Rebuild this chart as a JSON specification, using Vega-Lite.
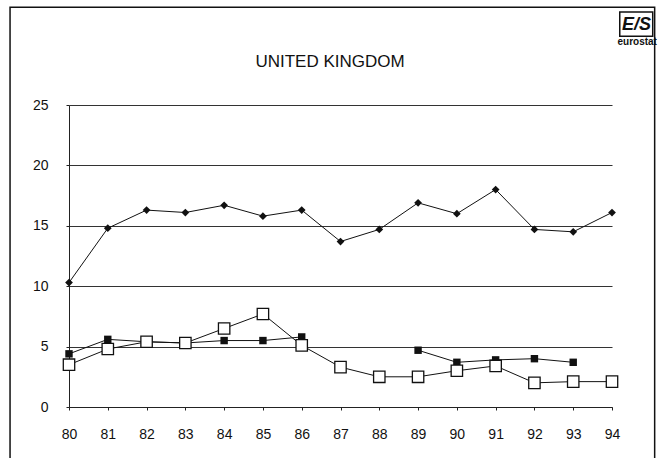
{
  "$schema": "https://vega.github.io/schema/vega-lite/v6.json",
  "width": 543,
  "height": 302,
  "autosize": {"type": "none"},
  "padding": {"left": 69, "top": 105, "right": 50, "bottom": 51},
  "background": "white",
  "config": {
    "view": {"stroke": null},
    "axis": {"labelFont": "Liberation Sans", "labelFontSize": 14, "labelColor": "#111", "title": null}
  },
  "data": {"values": [
    {"series": "A", "year": 80, "value": 10.3, "seg": 1},
    {"series": "A", "year": 81, "value": 14.8, "seg": 1},
    {"series": "A", "year": 82, "value": 16.3, "seg": 1},
    {"series": "A", "year": 83, "value": 16.1, "seg": 1},
    {"series": "A", "year": 84, "value": 16.7, "seg": 1},
    {"series": "A", "year": 85, "value": 15.8, "seg": 1},
    {"series": "A", "year": 86, "value": 16.3, "seg": 1},
    {"series": "A", "year": 87, "value": 13.7, "seg": 1},
    {"series": "A", "year": 88, "value": 14.7, "seg": 1},
    {"series": "A", "year": 89, "value": 16.9, "seg": 1},
    {"series": "A", "year": 90, "value": 16.0, "seg": 1},
    {"series": "A", "year": 91, "value": 18.0, "seg": 1},
    {"series": "A", "year": 92, "value": 14.7, "seg": 1},
    {"series": "A", "year": 93, "value": 14.5, "seg": 1},
    {"series": "A", "year": 94, "value": 16.1, "seg": 1},
    {"series": "B", "year": 80, "value": 4.4, "seg": 1},
    {"series": "B", "year": 81, "value": 5.6, "seg": 1},
    {"series": "B", "year": 82, "value": 5.4, "seg": 1},
    {"series": "B", "year": 83, "value": 5.3, "seg": 1},
    {"series": "B", "year": 84, "value": 5.5, "seg": 1},
    {"series": "B", "year": 85, "value": 5.5, "seg": 1},
    {"series": "B", "year": 86, "value": 5.8, "seg": 1},
    {"series": "B", "year": 89, "value": 4.7, "seg": 2},
    {"series": "B", "year": 90, "value": 3.7, "seg": 2},
    {"series": "B", "year": 91, "value": 3.9, "seg": 2},
    {"series": "B", "year": 92, "value": 4.0, "seg": 2},
    {"series": "B", "year": 93, "value": 3.7, "seg": 2},
    {"series": "C", "year": 80, "value": 3.5, "seg": 1},
    {"series": "C", "year": 81, "value": 4.8, "seg": 1},
    {"series": "C", "year": 82, "value": 5.4, "seg": 1},
    {"series": "C", "year": 83, "value": 5.3, "seg": 1},
    {"series": "C", "year": 84, "value": 6.5, "seg": 1},
    {"series": "C", "year": 85, "value": 7.7, "seg": 1},
    {"series": "C", "year": 86, "value": 5.1, "seg": 1},
    {"series": "C", "year": 87, "value": 3.3, "seg": 1},
    {"series": "C", "year": 88, "value": 2.5, "seg": 1},
    {"series": "C", "year": 89, "value": 2.5, "seg": 1},
    {"series": "C", "year": 90, "value": 3.0, "seg": 1},
    {"series": "C", "year": 91, "value": 3.4, "seg": 1},
    {"series": "C", "year": 92, "value": 2.0, "seg": 1},
    {"series": "C", "year": 93, "value": 2.1, "seg": 1},
    {"series": "C", "year": 94, "value": 2.1, "seg": 1}
  ]},
  "encoding": {
    "x": {"field": "year", "type": "quantitative", "scale": {"domain": [80, 94], "nice": false, "zero": false},
      "axis": {"values": [80,81,82,83,84,85,86,87,88,89,90,91,92,93,94], "format": "d", "grid": false, "labelOverlap": "parity", "labelSeparation": -30, "labelFlush": false, "domainColor": "#222", "tickColor": "#222", "tickSize": 3, "labelPadding": 17}},
    "y": {"field": "value", "type": "quantitative", "scale": {"domain": [0, 25], "nice": false},
      "axis": {"values": [0,5,10,15,20,25], "grid": true, "gridColor": "#333", "gridWidth": 1, "gridOpacity": 1, "domainColor": "#222", "tickColor": "#222", "tickSize": 3, "labelPadding": 18}}
  },
  "layer": [
    {
      "transform": [{"filter": "datum.series == 'A'"}],
      "mark": {"type": "line", "color": "#111", "strokeWidth": 1}
    },
    {
      "transform": [{"filter": "datum.series == 'A'"}],
      "mark": {"type": "point", "shape": "diamond", "filled": true, "color": "#111", "size": 60, "opacity": 1}
    },
    {
      "transform": [{"filter": "datum.series == 'B'"}],
      "mark": {"type": "line", "color": "#111", "strokeWidth": 1},
      "encoding": {"detail": {"field": "seg"}}
    },
    {
      "transform": [{"filter": "datum.series == 'B'"}],
      "mark": {"type": "point", "shape": "square", "filled": true, "color": "#111", "size": 55, "opacity": 1}
    },
    {
      "transform": [{"filter": "datum.series == 'C'"}],
      "mark": {"type": "line", "color": "#111", "strokeWidth": 1}
    },
    {
      "transform": [{"filter": "datum.series == 'C'"}],
      "mark": {"type": "point", "shape": "square", "filled": true, "fill": "white", "stroke": "#111", "strokeWidth": 1.3, "size": 130, "opacity": 1}
    },
    {
      "data": {"values": [{"label": "UNITED KINGDOM", "lx": 86.73, "ly": 28.56}]},
      "mark": {"type": "text", "font": "Liberation Sans", "fontSize": 17, "color": "#111", "baseline": "middle", "align": "center", "clip": false},
      "encoding": {"x": {"field": "lx", "type": "quantitative"}, "y": {"field": "ly", "type": "quantitative"}, "text": {"field": "label"}}
    },
    {
      "data": {"values": [{"x1": 78.48, "x2": 95.1, "y1": 33.1, "y2": -4.5}, {"x1": 94.2, "x2": 95.05, "y1": 32.7, "y2": 30.7}]},
      "mark": {"type": "rect", "fill": null, "stroke": "#111", "strokeWidth": 1.5, "clip": false},
      "encoding": {
        "x": {"field": "x1", "type": "quantitative"},
        "x2": {"field": "x2"},
        "y": {"field": "y1", "type": "quantitative"},
        "y2": {"field": "y2"}
      }
    },
    {
      "data": {"values": [{"label": "E/S", "lx": 94.63, "ly": 31.65}]},
      "mark": {"type": "text", "font": "Liberation Sans", "fontSize": 18, "fontWeight": "bold", "fontStyle": "italic", "color": "#111", "clip": false},
      "encoding": {"x": {"field": "lx", "type": "quantitative"}, "y": {"field": "ly", "type": "quantitative"}, "text": {"field": "label"}}
    },
    {
      "data": {"values": [{"label": "eurostat", "lx": 94.65, "ly": 30.2}]},
      "mark": {"type": "text", "font": "Liberation Sans", "fontSize": 10, "fontWeight": "bold", "color": "#111", "clip": false},
      "encoding": {"x": {"field": "lx", "type": "quantitative"}, "y": {"field": "ly", "type": "quantitative"}, "text": {"field": "label"}}
    }
  ]
}
